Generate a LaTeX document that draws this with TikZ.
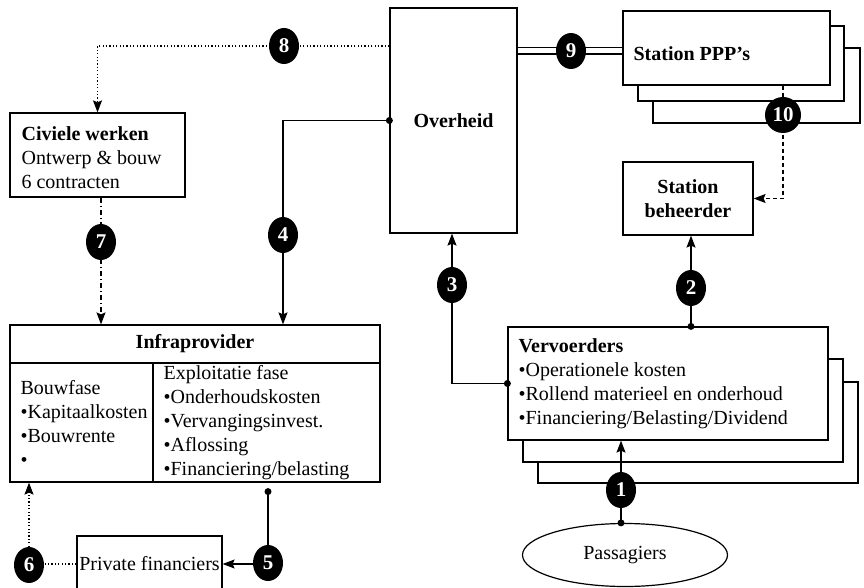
\documentclass[tikz,border=0pt]{standalone}
\usepackage{fontspec}
\setmainfont{Liberation Serif}
\usetikzlibrary{arrows.meta,shapes.geometric,calc}
\begin{document}
\begin{tikzpicture}[x=1pt,y=-1pt,
  line width=1.2pt,
  txt/.style={font=\fontsize{20}{24}\selectfont},
  box/.style={draw,fill=white,inner sep=0pt},
  num/.style={ellipse,fill=black,inner sep=0pt,minimum width=30pt,minimum height=36pt,text=white,font=\fontsize{21}{24}\selectfont\bfseries},
  arr/.style={-{Stealth[length=12pt,width=9pt,inset=2pt]}},
  dotline/.style={dash pattern=on 1.2pt off 2.2pt},
  dashdotline/.style={dash pattern=on 5pt off 3pt on 1.2pt off 3pt},
  dashline/.style={dash pattern=on 4pt off 3pt},
  dotmark/.style={circle,fill=black,inner sep=0pt,minimum size=7pt}
]
\clip (0,0) rectangle (864,588);
\fill[white] (0,0) rectangle (864,588);

% coordinates for number circles
\coordinate (c1) at (621,490);
\coordinate (c2) at (691,288);
\coordinate (c3) at (452,285);
\coordinate (c4) at (283,235);
\coordinate (c5) at (268,563);
\coordinate (c6) at (29,565);
\coordinate (c7) at (101,242);
\coordinate (c8) at (284,46);
\coordinate (c9) at (571,51);
\coordinate (c10) at (783,115);

% Overheid
\node[box,txt,minimum width=127pt,minimum height=225pt] (ov) at (453.5,120.5) {\bfseries Overheid};

% Station PPP's stack
\node[box,minimum width=207pt,minimum height=75pt] (ppp3) at (756.5,85.5) {};
\node[box,minimum width=206pt,minimum height=75pt] (ppp2) at (741,63.5) {};
\node[box,minimum width=207pt,minimum height=74pt] (ppp) at (726.5,48) {};
\node[txt,anchor=west,inner sep=0pt] (ppptxt) at (633,54) {\bfseries Station PPP’s};

% Station beheerder
\node[box,txt,align=center,minimum width=130pt,minimum height=73pt] (sb) at (688,198.5) {\bfseries Station\\\bfseries beheerder};

% Civiele werken
\node[box,minimum width=175pt,minimum height=84pt] (cw) at (97.5,155) {};
\node[txt,anchor=west,align=left,inner sep=0pt] (cwtxt) at (21,158) {{\bfseries Civiele werken}\\Ontwerp \& bouw\\6 contracten};

% Infraprovider
\node[box,minimum width=370pt,minimum height=157pt] (ip) at (195,403.5) {};
\draw (10,363) -- (380,363);
\draw (153,363) -- (153,482);
\node[txt] (iptitle) at (195,344) {\bfseries Infraprovider};
\node[txt,anchor=west,align=left,inner sep=0pt] (ipleft) at (20,423.5) {Bouwfase\\•Kapitaalkosten\\•Bouwrente\\•};
\node[txt,anchor=west,align=left,inner sep=0pt] (ipright) at (163,423) {Exploitatie fase\\•Onderhoudskosten\\•Vervangingsinvest.\\•Aflossing\\•Financiering/belasting};

% Vervoerders stack
\node[box,minimum width=320pt,minimum height=101pt] (vv3) at (698,432.5) {};
\node[box,minimum width=320pt,minimum height=103pt] (vv2) at (683,410.5) {};
\node[box,minimum width=320pt,minimum height=113pt] (vv) at (668,383.5) {};
\node[txt,anchor=west,align=left,inner sep=0pt] (vvtxt) at (518,383.5) {{\bfseries Vervoerders}\\•Operationele kosten\\•Rollend materieel en onderhoud\\•Financiering/Belasting/Dividend};

% Passagiers
\node[draw,ellipse,txt,minimum width=205pt,minimum height=63pt,inner sep=0pt] (pas) at (625,555) {Passagiers};

% Private financiers
\node[box,txt,minimum width=145pt,minimum height=56pt] (pf) at (149.5,564) {Private financiers};

% connectors
\draw[arr] (pas.north -| c1) -- (c1 |- vv.south);
\node[dotmark] at (pas.north -| c1) {};

\draw[arr] (vv.north -| c2) -- (c2 |- sb.south);
\node[dotmark] at (vv.north -| c2) {};

\draw[arr] (vv.west) -| (c3 |- ov.south);
\node[dotmark] at (vv.west) {};

\draw[arr] (ov.west) -| (c4 |- ip.north);
\node[dotmark] at (ov.west) {};

\coordinate (s5) at ($(ip.south -| c5)+(0,9)$);
\draw[arr] (s5) |- (pf.east);
\node[dotmark] at (s5) {};

\draw[arr,dotline] (pf.west) -| (c6 |- ip.south);

\draw[arr,dashdotline] (cw.south -| c7) -- (c7 |- ip.north);

\draw[arr,dotline] (ov.west |- c8) -| (cw.north);

\draw[double,double distance=5pt,line width=1.3pt] (ov.east |- c9) -- (ppp.west |- c9);

\draw[arr,dashline] (ppp.south -| c10) |- (sb.east);

% number circles
\node[num] (n1) at (c1) {1};
\node[num] (n2) at (c2) {2};
\node[num] (n3) at (c3) {3};
\node[num] (n4) at (c4) {4};
\node[num] (n5) at (c5) {5};
\node[num] (n6) at (c6) {6};
\node[num] (n7) at (c7) {7};
\node[num] (n8) at (c8) {8};
\node[num] (n9) at (c9) {9};
\node[num,minimum width=36pt] (n10) at (c10) {10};
\end{tikzpicture}
\end{document}
